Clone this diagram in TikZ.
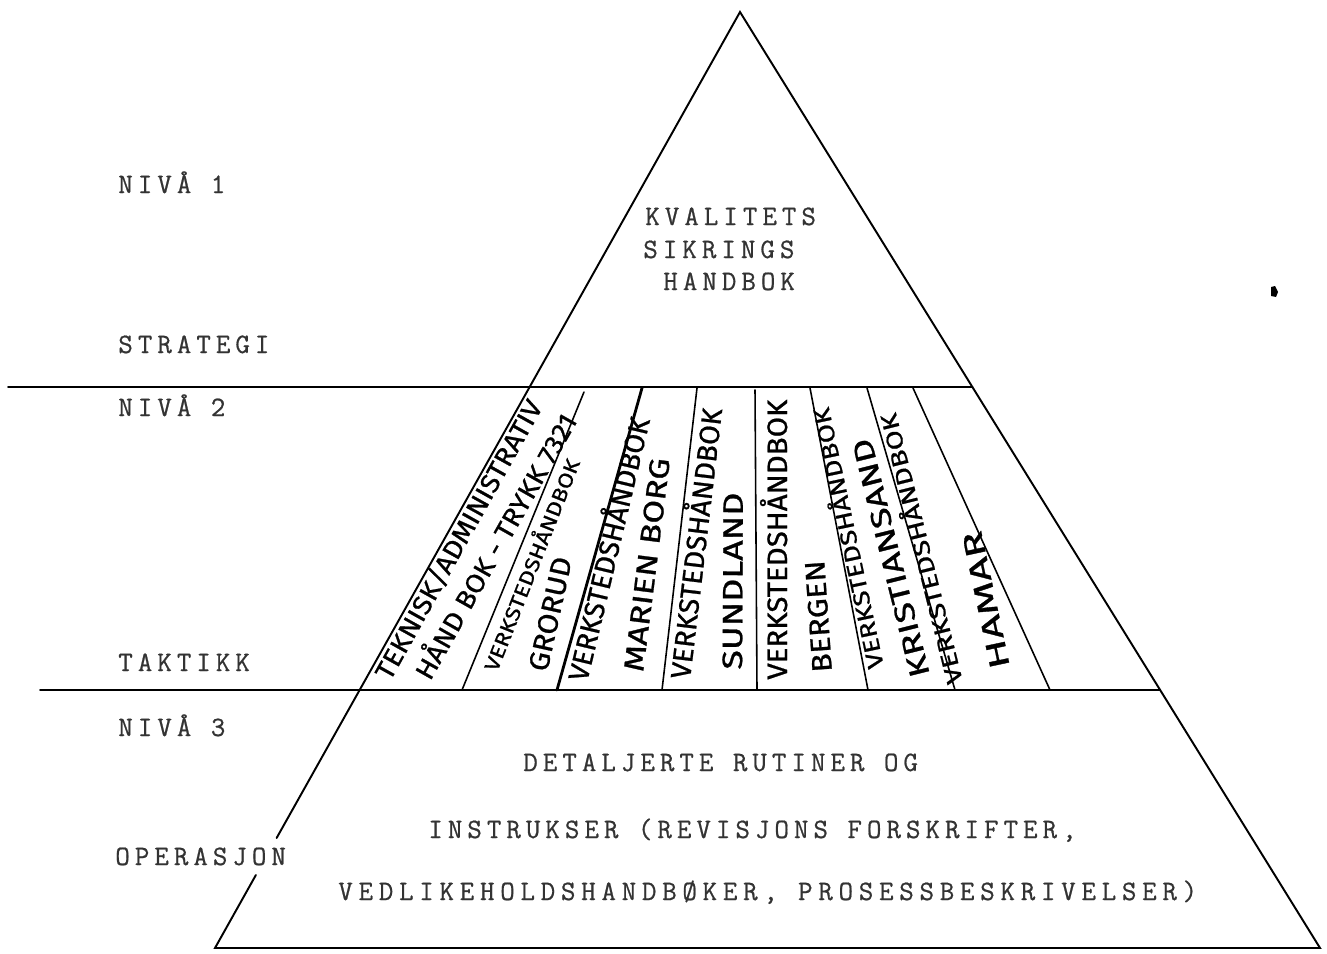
\documentclass[tikz,border=0pt]{standalone}
\usepackage{fontspec}
\usepackage{graphicx}
\newfontfamily\handfont[FakeBold=0.8]{Fira Sans}
% typewritten lettering: Latin Modern Mono with wide tracking
\newfontfamily\typefont[LetterSpace=17.9, FakeBold=0.7]{Latin Modern Mono}
\newfontfamily\typewidefont[LetterSpace=20.5, FakeBold=0.7]{Latin Modern Mono}
\newlength\pxu
\setlength\pxu{0.02cm}
% hand lettering: font size (pt), run length (px), text
\newcommand\handtext[3]{\resizebox{#2\pxu}{\height}{\fontsize{#1}{#1}\selectfont\handfont #3}}

\begin{document}
\begin{tikzpicture}[x=0.02cm,y=-0.02cm,
  edge/.style={line width=1.1pt, line cap=round},
  thin edge/.style={line width=0.9pt, line cap=round},
  tw/.style={font=\typefont\fontsize{16}{18}\selectfont, anchor=base west, inner sep=0pt, text=black!80},
  twwide/.style={tw, font=\typewidefont\fontsize{16}{18}\selectfont},
  hw/.style={anchor=base west, inner sep=0pt}]
\useasboundingbox (0,0) rectangle (1327,953);
\fill[white] (0,0) rectangle (1327,953);

% pyramid corners and break in the left side
\coordinate (apex) at (740,12);
\coordinate (bl) at (215,948);
\coordinate (br) at (1320,948);
\coordinate (gapTop) at (276.6,838);
\coordinate (gapBot) at (255.9,875);
\coordinate (l1a) at (8,387);
\coordinate (l1b) at (972.4,387);
\coordinate (l2a) at (40,690);
\coordinate (l2b) at (1160,690);

\draw[edge] (gapTop) -- (apex) -- (br) -- (bl) -- (gapBot);
\draw[edge] (l1a) -- (l1b);
\draw[edge] (l2a) -- (l2b);

% dividers of the middle band
\coordinate (d2t) at (584,392); \coordinate (d2b) at (462,690);
\coordinate (d3t) at (642,388); \coordinate (d3b) at (557,690);
\coordinate (d4t) at (697,388); \coordinate (d4b) at (662,690);
\coordinate (d5t) at (755,390); \coordinate (d5b) at (757,690);
\coordinate (d6t) at (810,388); \coordinate (d6b) at (868,690);
\coordinate (d7t) at (867,388); \coordinate (d7b) at (955,690);
\coordinate (d8t) at (913,388); \coordinate (d8b) at (1050,690);
\draw[thin edge] (d2t) -- (d2b);
\draw[edge, line width=1.6pt] (d3t) -- (d3b);
\draw[thin edge] (d4t) -- (d4b);
\draw[thin edge] (d5t) -- (d5b);
\draw[thin edge] (d6t) -- (d6b);
\draw[thin edge] (d7t) -- (d7b);
\draw[thin edge] (d8t) -- (d8b);

% level labels
\node[tw] (niva1) at (118,193) {NIVÅ 1};
\node[tw] (strat) at (118,353) {STRATEGI};
\node[tw] (niva2) at (118,416) {NIVÅ 2};
\node[tw] (takt) at (118,671) {TAKTIKK};
\node[tw] (niva3) at (118,736) {NIVÅ 3};
\node[tw] (oper) at (115,865) {OPERASJON};

% top of the pyramid
\node[tw] (kv1) at (645,225) {KVALITETS};
\node[tw] (kv2) at (643,258) {SIKRINGS};
\node[tw] (kv3) at (663,290) {HANDBOK};

% base of the pyramid
\node[tw] (det1) at (523,771) {DETALJERTE RUTINER OG};
\node[tw] (det2) at (428,838) {INSTRUKSER (REVISJONS FORSKRIFTER,};
\node[twwide] (det3) at (338,900) {VEDLIKEHOLDSHANDBØKER, PROSESSBESKRIVELSER)};

% hand-lettered handbooks in the middle band
\node[hw, rotate=60.9] (h1a) at (390,682) {\handtext{15}{315}{TEKNISK/ADMINISTRATIV}};
\node[hw, rotate=60.5] (h1b) at (430,682) {\handtext{15}{300}{HÅND BOK - TRYKK 7321}};
\node[hw, rotate=68.4] (h2a) at (497,673) {\handtext{11.5}{226}{VERKSTEDSHÅNDBOK}};
\node[hw, rotate=77.5] (h2b) at (547,673) {\handtext{16}{116}{GRORUD}};
\node[hw, rotate=76.5] (h3a) at (587,683) {\handtext{16}{270}{VERKSTEDSHÅNDBOK}};
\node[hw, rotate=82.8] (h3b) at (643,673) {\handtext{16}{215}{MARIEN BORG}};
\node[hw, rotate=83.2] (h4a) at (690,680) {\handtext{16}{272}{VERKSTEDSHÅNDBOK}};
\node[hw, rotate=89.7] (h4b) at (742,670) {\handtext{16}{177}{SUNDLAND}};
\node[hw, rotate=90] (h5a) at (787,680) {\handtext{16}{280}{VERKSTEDSHÅNDBOK}};
\node[hw, rotate=94] (h5b) at (832,672) {\handtext{16}{112}{BERGEN}};
\node[hw, rotate=102] (h6a) at (884,667) {\handtext{13}{266}{VERKSTEDSHÅNDBOK}};
\node[hw, rotate=104] (h6b) at (930,675) {\handtext{16}{245}{KRISTIANSAND}};
\node[hw, rotate=104] (h7a) at (963,682) {\handtext{13}{278}{VERKSTEDSHÅNDBOK}};
\node[hw, rotate=102] (h7b) at (1010,667) {\handtext{16}{140}{HAMAR}};

% small ink mark at the right
\fill (1271,287) -- (1275,286) -- (1278,292) -- (1276,297) -- (1271,296) -- cycle;
\end{tikzpicture}
\end{document}
